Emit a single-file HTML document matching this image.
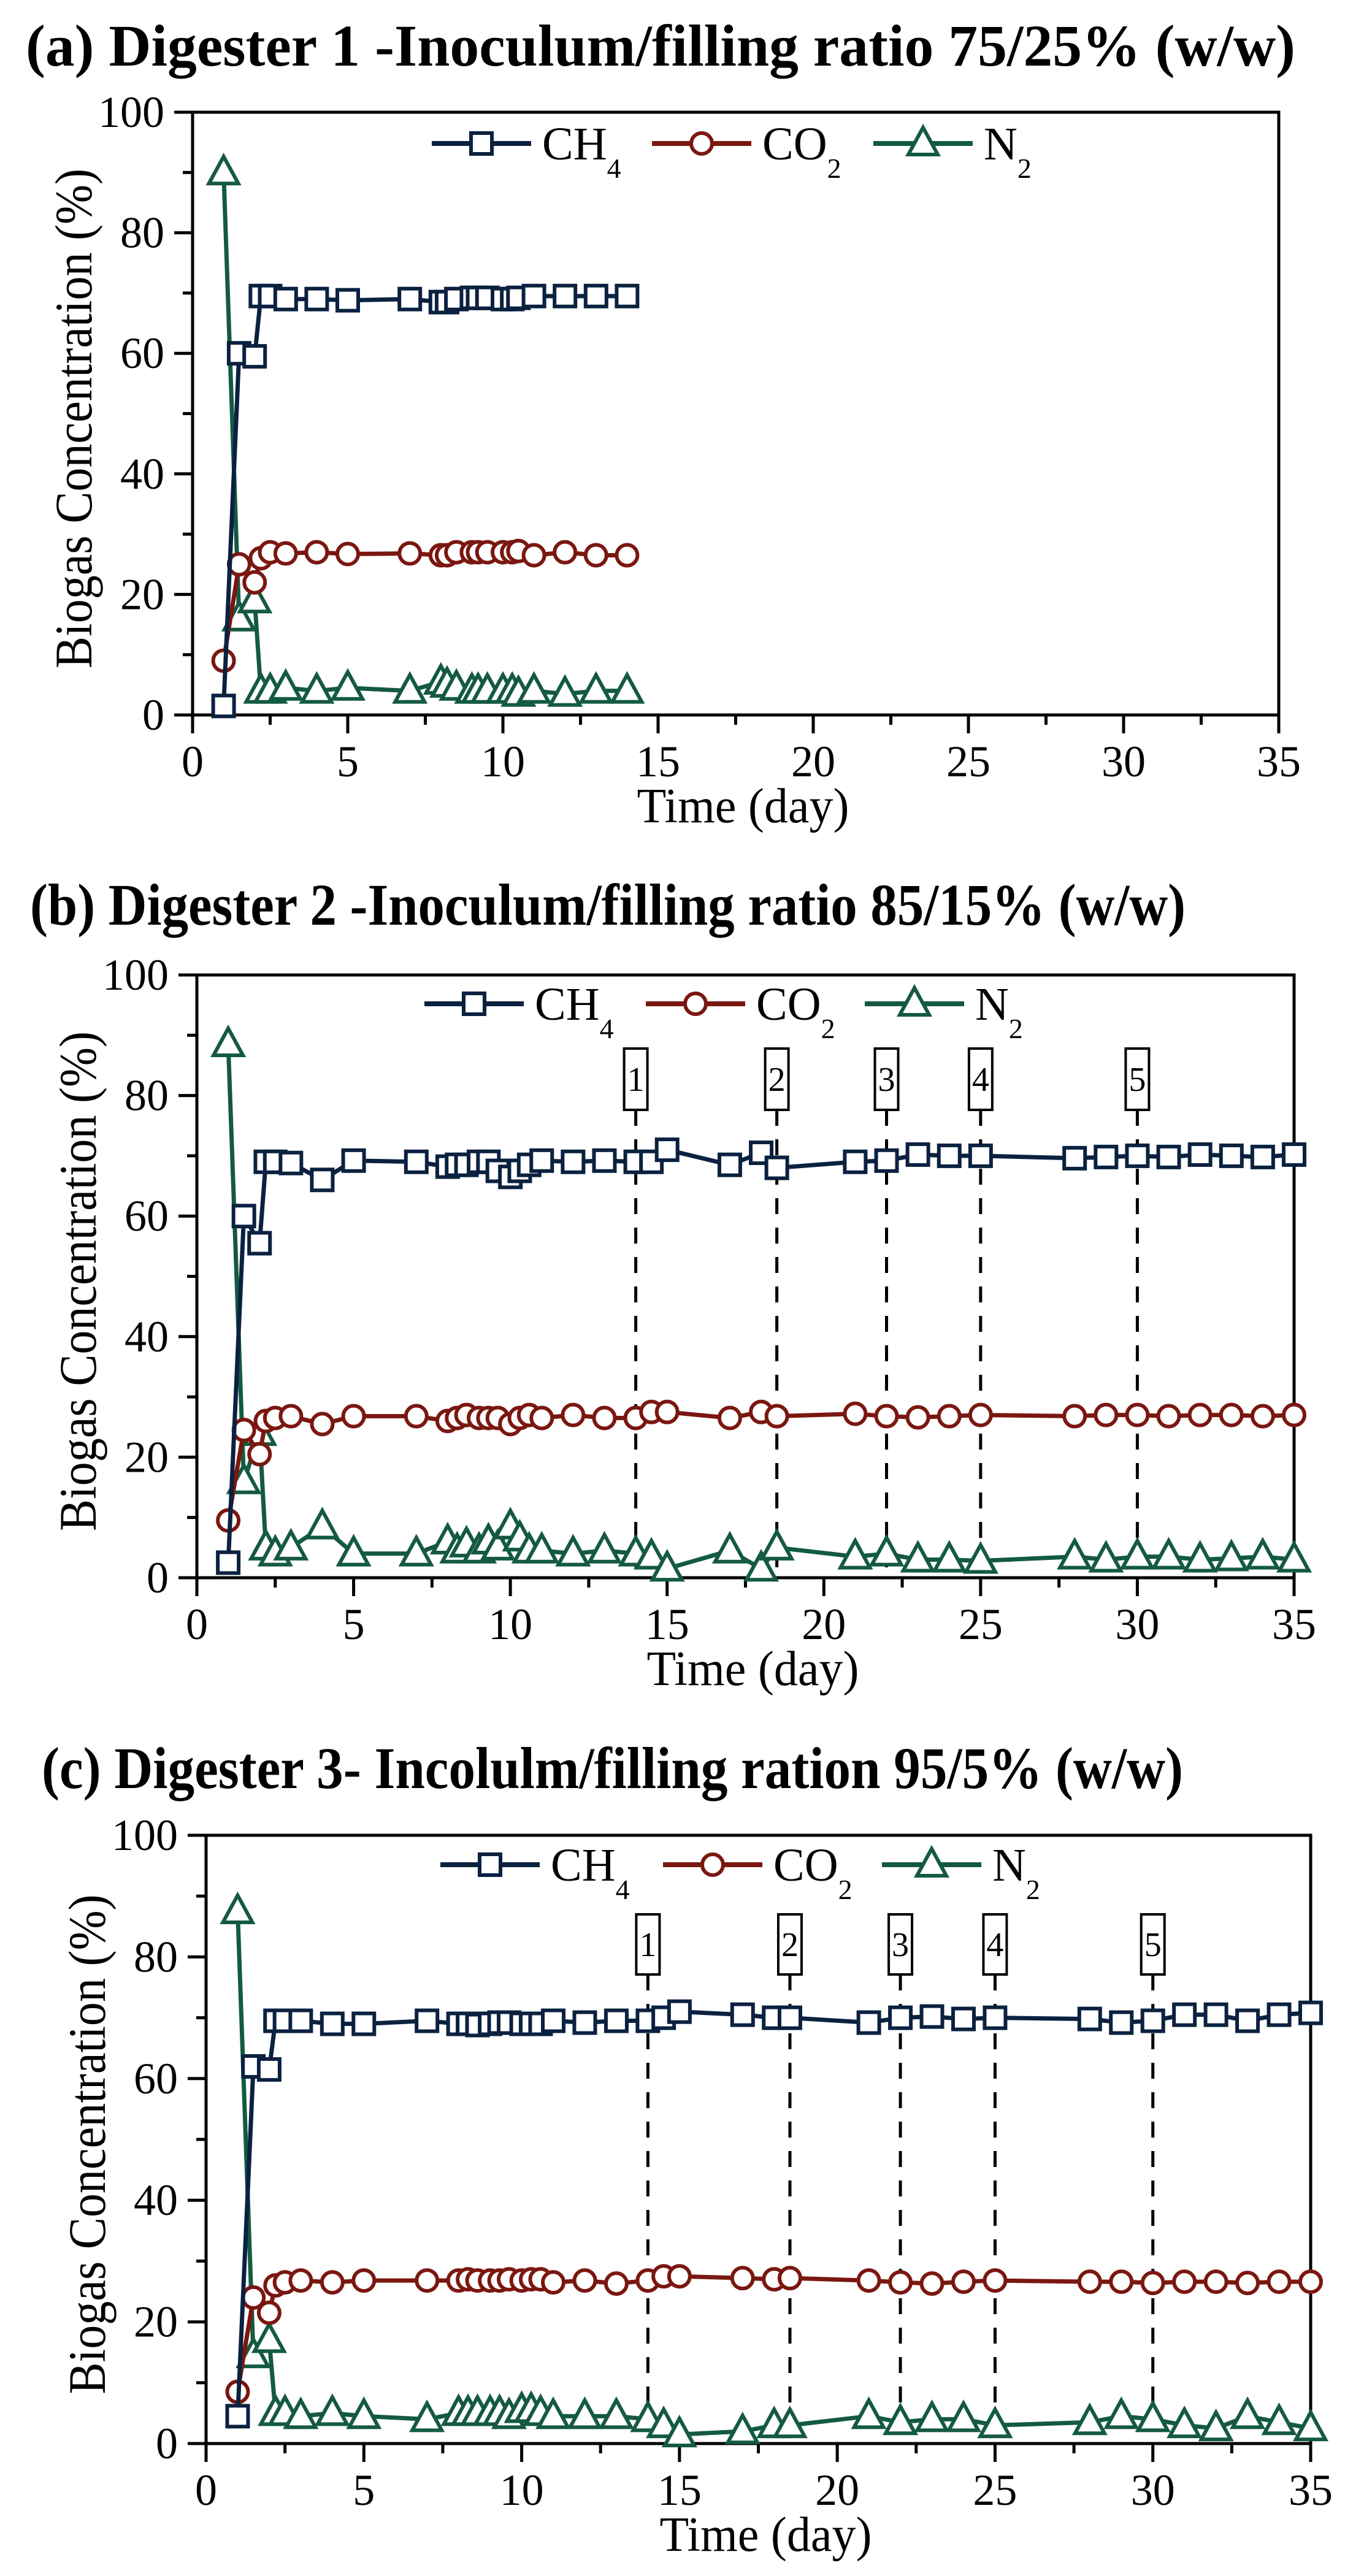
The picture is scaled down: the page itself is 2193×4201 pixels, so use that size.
<!DOCTYPE html>
<html><head><meta charset="utf-8">
<style>
html,body{margin:0;padding:0;background:#fff;}
svg{display:block;}
text{font-family:"Liberation Serif",serif;}
</style></head>
<body>
<svg id="fig" width="2193" height="4201" viewBox="0 0 2193 4201" xmlns="http://www.w3.org/2000/svg"></svg>
<script>
// ---------- data ----------
const xTicks = [0,5,10,15,20,25,30,35];
const yTicks = [0,20,40,60,80,100];
const feedDays = [14,18.5,22,25,30];
const feedLabels = ["1","2","3","4","5"];

const aDays = [1,1.5,2,2.2,2.5,3,4,5,7,8,8.2,8.5,9,9.2,9.5,10,10.3,10.5,11,12,13,14];
const aCH4  = [1.5,60,59.5,69.5,69.5,69,69,68.8,69,68.5,68.5,69,69.2,69.2,69.2,69,69,69.2,69.5,69.5,69.5,69.5];
const aCO2  = [9,25,22,26,27,26.8,27,26.7,26.8,26.5,26.5,27,27,27,27,27,27,27.2,26.5,27,26.5,26.5];
const aN2   = [90,16,19,4,4,4.5,4,4.5,4,5.5,5,4.5,4,4,4,4,4,3.5,4,3.5,4,4];

const bDays = [1,1.5,2,2.2,2.5,3,4,5,7,8,8.3,8.6,9,9.3,9.6,10,10.3,10.6,11,12,13,14,14.5,15,17,18,18.5,21,22,23,24,25,28,29,30,31,32,33,34,35];
const bCH4  = [2.5,60,55.5,69,69,68.8,66,69.2,69,68.2,68.5,68.5,69,69,67.5,66.5,67.5,68.5,69.2,69,69.2,69,69,71,68.5,70.5,68,69,69.2,70.2,70,70,69.6,69.8,70,69.8,70.2,70,69.8,70.2];
const bCO2  = [9.5,24.5,20.5,26,26.5,26.8,25.5,26.8,26.8,26,26.5,27,26.5,26.5,26.5,25.5,26.5,27,26.5,27,26.5,26.5,27.5,27.5,26.5,27.5,26.8,27.2,26.8,26.6,26.8,27,26.8,27,27,26.8,27,27,26.8,27];
const bN2   = [88.5,16,24,5,4,5,8.5,4,4,6,4.5,5.5,4.5,6,5,8.5,6.5,4.5,4.5,4,4.5,4,3.5,1.5,4.5,1.5,5,3.5,4,3,3,2.8,3.5,3,3.5,3.5,3,3.2,3.5,3];

const cDays = [1,1.5,2,2.2,2.5,3,4,5,7,8,8.3,8.6,9,9.3,9.6,10,10.3,10.6,11,12,13,14,14.5,15,17,18,18.5,21,22,23,24,25,28,29,30,31,32,33,34,35];
const cCH4  = [4.5,62,61.5,69.5,69.5,69.5,69,69,69.5,69,69,68.8,69,69.2,69.2,69,69,69,69.5,69.2,69.5,69.5,70,71,70.5,70,70,69.2,70,70.2,69.8,70,69.8,69.2,69.5,70.5,70.5,69.5,70.5,70.8];
const cCO2  = [8.5,24,21.5,26,26.5,26.8,26.5,26.8,26.8,26.8,27,26.8,26.8,26.8,27,26.8,27,27,26.5,26.8,26.3,26.8,27.5,27.5,27.2,27,27.2,26.8,26.5,26.3,26.6,26.8,26.6,26.6,26.4,26.6,26.6,26.4,26.6,26.6];
const cN2   = [87.5,14.5,17,5,5,4.5,5,4.5,4,5,5,5,5,5,4.5,5.5,5.5,5,4.5,4.5,4.5,4,3,1.5,2,3,3,4.5,3.5,4,4,3,3.5,4.5,4,3,2.5,4.5,3.5,2.5];

// ---------- drawing ----------
const NS = "http://www.w3.org/2000/svg";
const svg = document.getElementById("fig");
const COL = {ch4:"#0b2140", co2:"#7a1710", n2:"#145a40"};
function mk(tag, attrs, parent){
  const e = document.createElementNS(NS, tag);
  for (const k in attrs) e.setAttribute(k, attrs[k]);
  (parent||svg).appendChild(e);
  return e;
}
function marker(g, kind, cx, cy, color){
  let m;
  if (kind==="sq") m = mk("rect",{x:cx-17,y:cy-17,width:34,height:34,fill:"#fff",stroke:color,"stroke-width":6},g);
  else if (kind==="ci") m = mk("circle",{cx:cx,cy:cy,r:17,fill:"#fff",stroke:color,"stroke-width":6},g);
  else m = mk("polygon",{points:`${cx},${cy-26} ${cx-24},${cy+18} ${cx+24},${cy+18}`,fill:"#fff",stroke:color,"stroke-width":6,"stroke-linejoin":"miter"},g);
  return m;
}

function panel(cfg){
  const g = mk("g",{});
  
  
  const L=cfg.L,R=cfg.R,T=cfg.T,B=cfg.B;
  const sx = v => L + (v/35)*(R-L);
  const sy = v => B - (v/100)*(B-T);

  const title = mk("text",{x:cfg.tx,y:cfg.ty,"font-size":96,"font-weight":"bold",textLength:cfg.tw,lengthAdjust:"spacingAndGlyphs"},g);
  title.textContent = cfg.title;
  
  

  // feed markers
  if (cfg.feeds){
    feedDays.forEach((d,i)=>{
      const x = sx(d);
      const ln = mk("line",{x1:x,y1:cfg.boxB,x2:x,y2:B,stroke:"#000","stroke-width":5,"stroke-dasharray":"26 22"},g);
      
      
      const bx = mk("rect",{x:x-19,y:cfg.boxT,width:38,height:cfg.boxB-cfg.boxT,fill:"#fff",stroke:"#000","stroke-width":4},g);
      
      
      const t = mk("text",{x:x,y:(cfg.boxT+cfg.boxB)/2+19,"font-size":56,"text-anchor":"middle"},g);
      t.textContent = feedLabels[i];
      
      
    });
  }

  // axes frame
  const fr = mk("rect",{x:L,y:T,width:R-L,height:B-T,fill:"none",stroke:"#000","stroke-width":5},g);
  
  

  // x ticks
  for (let v=0; v<=35; v+=2.5){
    const major = (v%5===0);
    const tk = mk("line",{x1:sx(v),y1:B,x2:sx(v),y2:B+(major?30:16),stroke:"#000","stroke-width":5},g);
    
    
  }
  xTicks.forEach(v=>{
    const t = mk("text",{x:sx(v),y:B+100,"font-size":72,"text-anchor":"middle"},g);
    t.textContent = v;
    
    
  });
  // y ticks
  for (let v=0; v<=100; v+=10){
    const major = (v%20===0);
    const tk = mk("line",{x1:L,y1:sy(v),x2:L-(major?30:16),y2:sy(v),stroke:"#000","stroke-width":5},g);
    
    
  }
  yTicks.forEach(v=>{
    const t = mk("text",{x:L-46,y:sy(v)+24,"font-size":72,"text-anchor":"end"},g);
    t.textContent = v;
    
    
  });
  const xt = mk("text",{x:(L+R)/2+12,y:B+175,"font-size":80,"text-anchor":"middle",textLength:346,lengthAdjust:"spacingAndGlyphs"},g);
  xt.textContent = "Time (day)";
  
  
  const ytx = L-165, yty = (T+B)/2+8;
  const yt = mk("text",{x:ytx,y:yty,"font-size":86,"text-anchor":"middle",transform:`rotate(-90 ${ytx} ${yty})`,textLength:815,lengthAdjust:"spacingAndGlyphs"},g);
  yt.textContent = "Biogas Concentration (%)";
  
  

  // series
  const series = [
    {key:"n2", vals:cfg.n2, kind:"tr", name:"n2-series"},
    {key:"co2", vals:cfg.co2, kind:"ci", name:"co2-series"},
    {key:"ch4", vals:cfg.ch4, kind:"sq", name:"ch4-series"}
  ];
  series.forEach(s=>{
    const sg = mk("g",{},g);
    
    
    const pts = cfg.days.map((d,i)=>sx(d)+","+sy(s.vals[i])).join(" ");
    const pl = mk("polyline",{points:pts,fill:"none",stroke:COL[s.key],"stroke-width":7,"stroke-linejoin":"round"},sg);
    
    
    cfg.days.forEach((d,i)=>{
      const m = marker(sg, s.kind, sx(d), sy(s.vals[i]), COL[s.key]);
      
      
    });
  });

  // legend
  const lg = mk("g",{},g);
  
  
  const ly = cfg.ly;
  const entries = [
    {key:"ch4", kind:"sq", x:cfg.lx[0], main:"CH", sub:"4"},
    {key:"co2", kind:"ci", x:cfg.lx[1], main:"CO", sub:"2"},
    {key:"n2", kind:"tr", x:cfg.lx[2], main:"N", sub:"2"}
  ];
  entries.forEach(e=>{
    const eg = mk("g",{},lg);
    
    
    mk("line",{x1:e.x,y1:ly,x2:e.x+162,y2:ly,stroke:COL[e.key],"stroke-width":8},eg);
    marker(eg, e.kind, e.x+81, ly, COL[e.key]);
    const t = mk("text",{x:e.x+180,y:ly+26,"font-size":76},eg);
    t.appendChild(document.createTextNode(e.main));
    const ts = mk("tspan",{"font-size":46,dy:30},t);
    ts.textContent = e.sub;
  });
}

panel({name:"panel-a-digester-1", title:"(a) Digester 1 -Inoculum/filling ratio 75/25% (w/w)", tx:42, ty:107, tw:2070,
  L:314,R:2085,T:183,B:1166, ly:234, lx:[704,1063,1424],
  days:aDays, ch4:aCH4, co2:aCO2, n2:aN2, feeds:false});
panel({name:"panel-b-digester-2", title:"(b) Digester 2 -Inoculum/filling ratio 85/15% (w/w)", tx:49, ty:1508, tw:1884,
  L:321,R:2110,T:1590,B:2573, ly:1637, lx:[692,1053,1410], boxT:1710, boxB:1810,
  days:bDays, ch4:bCH4, co2:bCO2, n2:bN2, feeds:true});
panel({name:"panel-c-digester-3", title:"(c) Digester 3- Incolulm/filling ration 95/5% (w/w)", tx:68, ty:2916, tw:1861,
  L:336,R:2137,T:2993,B:3985, ly:3041, lx:[718,1081,1438], boxT:3122, boxB:3220,
  days:cDays, ch4:cCH4, co2:cCO2, n2:cN2, feeds:true});
</script>
</body></html>
